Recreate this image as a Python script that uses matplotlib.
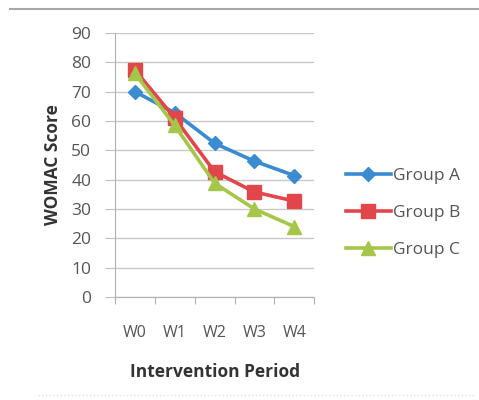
import matplotlib
matplotlib.use("Agg")
import matplotlib.pyplot as plt
from matplotlib.lines import Line2D

plt.rcParams['font.family'] = ['Open Sans', 'DejaVu Sans']

# Data
periods = ["W0", "W1", "W2", "W3", "W4"]
group_a = [70.0, 62.8, 52.4, 46.3, 41.4]
group_b = [77.4, 61.0, 42.7, 35.8, 32.7]
group_c = [76.2, 58.5, 38.8, 30.0, 24.0]
yticks = [0, 10, 20, 30, 40, 50, 60, 70, 80, 90]

fig = plt.figure(figsize=(4.79, 4.00), dpi=100)
ax = fig.add_axes([0.240, 0.2575, 0.416, 0.66])

x = list(range(len(periods)))
ax.plot(x, group_a, color="#3b8bd0", lw=2.6, marker="D", ms=7, label="Group A")
ax.plot(x, group_b, color="#e0464a", lw=2.6, marker="s", ms=10, label="Group B")
ax.plot(x, group_c, color="#a6c64a", lw=2.6, marker="^", ms=10, label="Group C")

ax.set_xlim(-0.5, 4.5)
ax.set_ylim(0, 90)
ax.set_yticks(yticks)
ax.yaxis.grid(True, color="#c8c8c8", lw=1)
ax.set_axisbelow(True)

# category boundary ticks, labels in the middle
ax.set_xticks([i - 0.5 for i in range(len(periods) + 1)])
ax.set_xticklabels([])
ax.set_xticks(x, minor=True)
ax.set_xticklabels(periods, minor=True)
ax.tick_params(axis="x", which="major", length=5, color="#b0b0b0")
ax.tick_params(axis="x", which="minor", length=0, pad=20, labelsize=11.5, labelcolor="#555555")
ax.tick_params(axis="y", length=7, color="#c0c0c0", labelsize=12.5, labelcolor="#555555", pad=10)

for side in ["top", "right"]:
    ax.spines[side].set_visible(False)
ax.spines["left"].set_color("#b0b0b0")
ax.spines["bottom"].set_color("#b0b0b0")

ax.set_ylabel("WOMAC Score", fontsize=12.5, fontweight="bold", color="#333333", labelpad=7)
ax.set_xlabel("Intervention Period", fontsize=12.5, fontweight="bold", color="#333333", labelpad=16)

ax.legend(loc="center left", bbox_to_anchor=(1.08, 0.32), frameon=False,
          fontsize=12.5, labelcolor="#555555", handlelength=2.6, handletextpad=0.1,
          labelspacing=1.2)

fig.add_artist(Line2D([0.02, 1.0], [0.978, 0.978], color="#a8a8a8", lw=1.5))
fig.add_artist(Line2D([0.08, 0.99], [0.012, 0.012], color="#e0e0e0", lw=1, ls=":"))

fig.savefig("out.png", dpi=100)
